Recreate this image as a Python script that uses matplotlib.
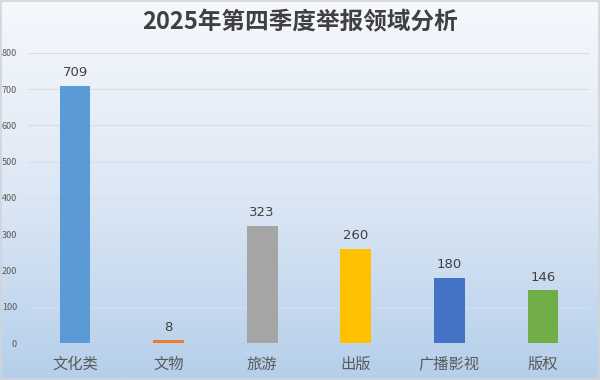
import numpy as np
import matplotlib.pyplot as plt
from matplotlib.colors import LinearSegmentedColormap

plt.rcParams['font.family'] = ['Noto Sans CJK SC', 'DejaVu Sans']

# ---------- data ----------
categories = ['文化类', '文物', '旅游', '出版', '广播影视', '版权']
counts = [709, 8, 323, 260, 180, 146]
bar_colors = ['#5B9BD5', '#ED7D31', '#A5A5A5', '#FFC000', '#4472C4', '#70AD47']
yticks = [0, 100, 200, 300, 400, 500, 600, 700, 800]

fig = plt.figure(figsize=(6, 3.8), dpi=100)

# gradient background over the whole figure
bg = fig.add_axes([0, 0, 1, 1], zorder=0)
cmap = LinearSegmentedColormap.from_list('bg', ['#f6f8fc', '#dde8f5', '#b5cfea'])
grad = np.linspace(0, 1, 256).reshape(-1, 1)
bg.imshow(grad, aspect='auto', cmap=cmap, extent=[0, 1, 0, 1], origin='upper')
bg.set_xlim(0, 1)
bg.set_ylim(0, 1)
bg.axis('off')
bg.add_patch(plt.Rectangle((0.002, 0.003), 0.996, 0.994, fill=False,
                           edgecolor='#d0d4d9', linewidth=1.2,
                           transform=bg.transAxes))

ax = fig.add_axes([0.047, 0.097, 0.936, 0.764], zorder=1)
ax.patch.set_alpha(0)

x = np.arange(len(categories))
bars = ax.bar(x, counts, width=0.33, color=bar_colors, zorder=3)
for xi, v in zip(x, counts):
    ax.text(xi, v + 18, str(v), ha='center', va='bottom', fontsize=9.5,
            color='#404040', family=['DejaVu Sans'])

ax.set_xlim(-0.5, len(categories) - 0.5)
ax.set_ylim(0, 800)
ax.set_yticks(yticks)
ax.set_yticklabels([str(t) for t in yticks], fontsize=6.5, color='#595959')
ax.set_xticks(x)
ax.set_xticklabels(categories, fontsize=11, color='#595959')
ax.tick_params(axis='both', length=0)
ax.tick_params(axis='y', pad=8)
ax.tick_params(axis='x', pad=9)
ax.grid(axis='y', color='#d6dfe9', linewidth=0.8, zorder=1)
for s in ax.spines.values():
    s.set_visible(False)

fig.text(0.5, 0.942, '2025年第四季度举报领域分析', ha='center', va='center',
         fontsize=17, fontweight='bold', color='#404040')

fig.savefig('out.png', dpi=100)
